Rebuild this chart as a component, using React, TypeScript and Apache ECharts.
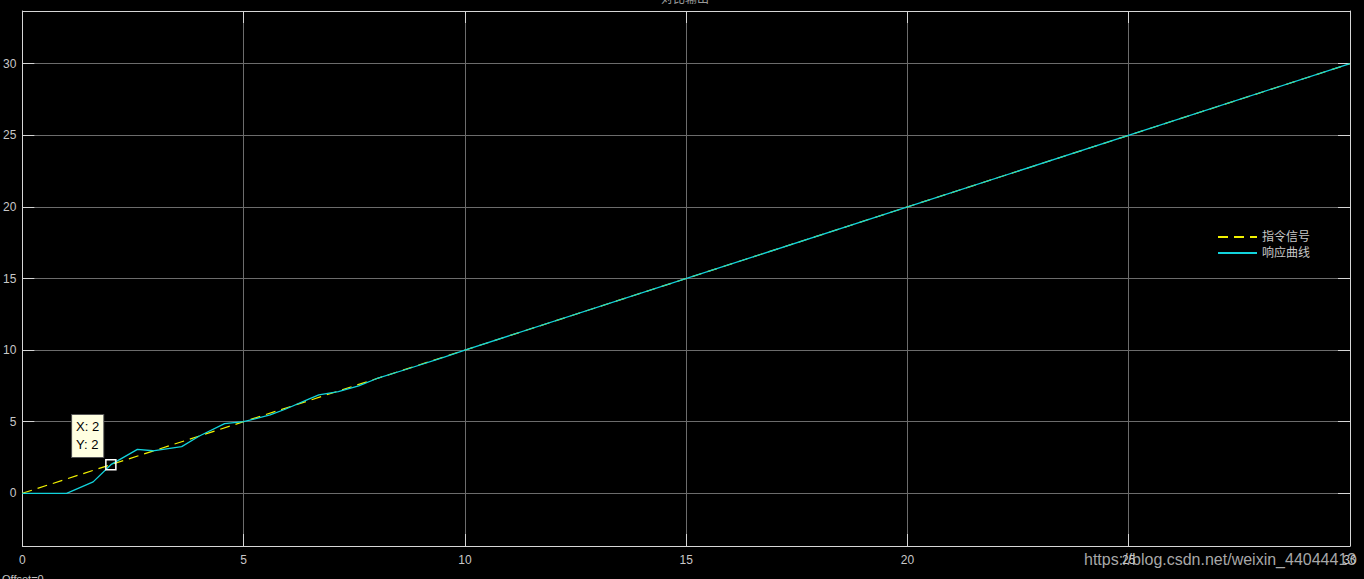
import React, { useEffect, useRef } from "react";
import * as echarts from "echarts";

const titleText = "对比输出";
const seriesNames = ["指令信号", "响应曲线"];
const commandT = [0, 30];
const commandY = [0, 30];
const responseT = [0, 1, 1.6, 2, 2.6, 2.95, 3.6, 4.0, 4.57, 5, 5.6, 5.94, 6.47, 6.7, 7.14, 7.6, 8.0, 8.7, 9.5, 10, 30];
const responseY = [0, 0, 0.8, 2, 3.07, 2.97, 3.26, 4.0, 4.86, 5, 5.47, 5.87, 6.57, 6.87, 7.1, 7.5, 8.0, 8.68, 9.47, 10, 30];
const yTicks = [0, 5, 10, 15, 20, 25, 30];
const tipPoint = [2, 2];
const watermark = "https://blog.csdn.net/weixin_44044413";
const offsetText = "Offset=0";

const FONT = "'Liberation Sans', Arial, 'Noto Sans CJK SC', sans-serif";
const AXIS_COLOR = "#d6d6d6";
const GRID_COLOR = "#6c6c6c";
const LABEL_COLOR = "#c8c8c8";

export default function App() {
  const ref = useRef<HTMLDivElement>(null);
  useEffect(() => {
    if (!ref.current) return;
    const chart = echarts.init(ref.current, null, { renderer: "svg" });
    const cmd = commandT.map((t, i) => [t, commandY[i]]);
    const resp = responseT.map((t, i) => [t, responseY[i]]);
    const xBase = {
      type: "value",
      min: 0,
      max: 30,
      interval: 5,
      axisLine: { show: true, onZero: false, lineStyle: { color: AXIS_COLOR, width: 1 } },
      axisTick: { show: true, inside: true, length: 12, lineStyle: { color: AXIS_COLOR } },
    };
    const yBase = {
      type: "value",
      min: -3.68,
      max: 33.68,
      axisLine: { show: true, onZero: false, lineStyle: { color: AXIS_COLOR, width: 1 } },
      axisTick: { show: true, inside: true, length: 12, customValues: yTicks, lineStyle: { color: AXIS_COLOR } },
    };
    chart.setOption({
      animation: false,
      backgroundColor: "#000000",
      grid: { left: 20, top: 11, width: 1330, height: 535, show: false },
      legend: {
        data: seriesNames,
        orient: "vertical",
        left: 1212,
        top: 226,
        itemWidth: 39,
        itemHeight: 14,
        itemGap: 4,
        itemStyle: { opacity: 0 },
        textStyle: { color: LABEL_COLOR, fontSize: 12, fontFamily: FONT },
      },
      xAxis: [
        {
          ...xBase,
          position: "bottom",
          axisLabel: { show: true, color: LABEL_COLOR, fontSize: 12, fontFamily: FONT, margin: 8 },
          splitLine: { show: true, lineStyle: { color: GRID_COLOR, width: 1 } },
        },
        {
          ...xBase,
          position: "top",
          axisLabel: { show: false },
          splitLine: { show: false },
        },
      ],
      yAxis: [
        {
          ...yBase,
          position: "left",
          axisLabel: { show: true, customValues: yTicks, color: LABEL_COLOR, fontSize: 12, fontFamily: FONT, margin: 6 },
          splitLine: { show: true, lineStyle: { color: GRID_COLOR, width: 1 } },
        },
        {
          ...yBase,
          position: "right",
          axisLabel: { show: false },
          splitLine: { show: false },
        },
      ],
      series: [
        {
          name: seriesNames[0],
          type: "line",
          data: cmd,
          symbol: "none",
          z: 2,
          lineStyle: { color: "#f2f200", width: 1.2, type: [10, 6] },
          itemStyle: { color: "#f2f200" },
        },
        {
          name: seriesNames[1],
          type: "line",
          data: resp,
          symbol: "none",
          z: 3,
          lineStyle: { color: "#12d3dc", width: 1.3 },
          itemStyle: { color: "#12d3dc" },
        },
        {
          name: "datatip",
          type: "scatter",
          data: [tipPoint],
          symbol: "rect",
          symbolSize: 10,
          z: 5,
          itemStyle: { color: "rgba(0,0,0,0)", borderColor: "#ffffff", borderWidth: 1.5, opacity: 1 },
          label: {
            show: true,
            position: [-33, -44],
            formatter: () => `X: ${tipPoint[0]}\nY: ${tipPoint[1]}`,
            color: "#000",
            fontSize: 13,
            fontFamily: FONT,
            lineHeight: 18,
            backgroundColor: "#ffffe1",
            borderColor: "#555",
            borderWidth: 1,
            padding: [3, 4, 3, 4],
            align: "left",
          },
        },
      ],
      graphic: [
        {
          type: "text",
          left: 685 - 24,
          top: -7,
          style: { text: titleText, fill: "#9a9a9a", font: `12px ${FONT}` },
        },
        {
          type: "text",
          left: 2,
          top: 573,
          style: { text: offsetText, fill: "#c4c4c4", font: `11px ${FONT}` },
        },
        {
          type: "text",
          left: 1084,
          top: 551,
          z: 100,
          style: { text: watermark, fill: "rgba(200,200,200,0.85)", font: `16px ${FONT}` },
        },
      ],
    });
    return () => chart.dispose();
  }, []);
  return <div ref={ref} style={{ position: "fixed", left: 0, top: 0, width: 1364, height: 579 }} />;
}
